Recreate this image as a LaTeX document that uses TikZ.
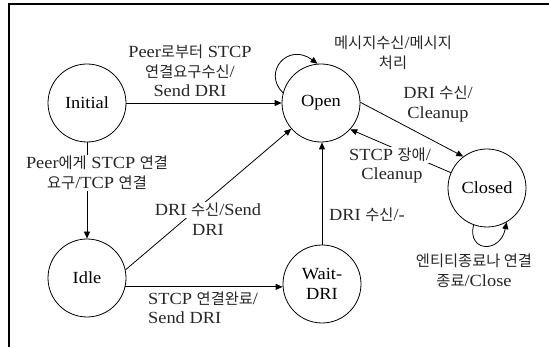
\documentclass[tikz,border=0pt]{standalone}
\usepackage{fontspec}
\setmainfont{Liberation Serif}[FakeStretch=1.08]
\newfontfamily\krfont{Noto Sans CJK KR}[Scale=0.9]
\newcommand{\K}[1]{{\krfont #1}}
\newcommand{\fsz}{\fontsize{17}{19.5}\selectfont}
\usetikzlibrary{arrows.meta}
\begin{document}
\begin{tikzpicture}[x=1pt,y=-1pt,
  state/.style={draw, circle, minimum size=78pt, inner sep=0pt, line width=0.8pt, font=\fsz, align=center},
  lbl/.style={font=\fsz, align=center, inner sep=1pt, text=black!85},
  wlbl/.style={lbl, fill=white},
  edge/.style={line width=0.8pt, -{Triangle[length=7pt,width=6pt]}},
  frame/.style={line width=1.4pt}
]
\useasboundingbox (0,0) rectangle (549,347);
\draw[frame] (9,347) -- (9,4) -- (549,4);

\node[state] (initial) at (87,103) {Initial};
\node[state] (open) at (321,103) {Open};
\node[state] (closed) at (487,188) {Closed};
\node[state] (idle) at (87,278) {Idle};
\node[state] (wait) at (322,284) {Wait-\\DRI};

\draw[edge] (initial) -- (open);
\draw[edge] (initial) -- (idle);
\draw[edge] (idle.-13) -- (idle.-13 -| wait.west);
\draw[edge] (idle.12) -- (open.221);
\draw[edge] (wait.north) -- (wait.north |- open.south);
\draw[edge] (open.1) -- (closed.127);
\draw[edge] (closed.157) -- (open.318);
\draw[edge] (open.165) .. controls (262,72) and (288,42) .. (open.95);
\draw[edge] (closed.250) .. controls (467,252) and (500,254) .. (closed.300);

\node[lbl] (l1) at (190,71) {Peer\K{로부터} STCP\\\K{연결요구수신}/\\Send DRI};
\node[wlbl] (l2) at (97,173) {Peer\K{에게} STCP \K{연결}\\\K{요구}/TCP \K{연결}};
\node[wlbl] (l3a) at (208,210) {DRI \K{수신}/Send};
\node[lbl] (l3b) at (208,230) {DRI};
\node[lbl, anchor=west, align=left] (l4) at (147,308) {STCP \K{연결완료}/\\Send DRI};
\node[lbl, anchor=west] (l5) at (328,215) {DRI \K{수신}/-};
\node[lbl] (l6) at (438,104) {DRI \K{수신}/\\Cleanup};
\node[wlbl] (l7a) at (390,155) {STCP \K{장애}/};
\node[lbl] (l7b) at (392,175) {Cleanup};
\node[lbl] (l8) at (393,53) {\K{메시지수신}/\K{메시지}\\\K{처리}};
\node[lbl] (l9) at (474,271) {\K{엔티티종료나 연결}\\\K{종료}/Close};
\end{tikzpicture}
\end{document}
